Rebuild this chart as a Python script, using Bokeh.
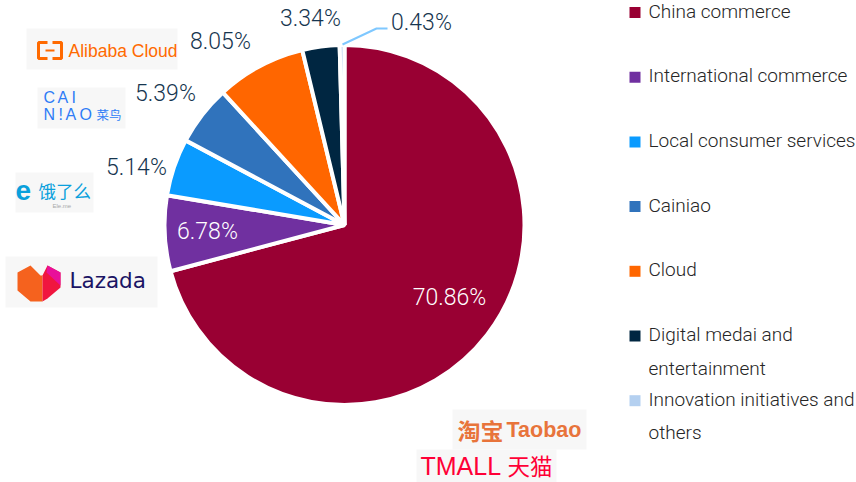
from math import pi
import numpy as np
from bokeh.plotting import figure
from bokeh.models import Range1d
from bokeh.core.properties import value
from bokeh.embed import file_html
from bokeh.resources import INLINE

categories = ["China commerce", "International commerce", "Local consumer services", "Cainiao", "Cloud",
              "Digital medai and\nentertainment", "Innovation initiatives and\nothers"]
shares = [70.86, 6.78, 5.14, 5.39, 8.05, 3.34, 0.43]
colors = ["#990033", "#7030A0", "#0A9BFF", "#3073BC", "#FF6600", "#002641", "#B4D0F0"]
label_text = ["70.86%", "6.78%", "5.14%", "5.39%", "8.05%", "3.34%", "0.43%"]
label_x = [449, 207, 136, 165, 220, 310, 421]
label_y = [296.5, 230.5, 166.5, 92.5, 40.5, 17.5, 21.5]
label_color = ["#FFFFFF", "#FFFFFF", "#16354F", "#16354F", "#16354F", "#16354F", "#16354F"]

FONT = "Roboto Light"
LOGO = "Liberation Sans"
CJK = "Noto Sans CJK SC"


def Y(py):
    return 482 - py


p = figure(width=856, height=482, output_backend="svg", toolbar_location=None,
           x_range=Range1d(0, 856), y_range=Range1d(0, 482), min_border=0)
p.axis.visible = False
p.grid.visible = False
p.outline_line_color = None

# pie
frac = np.array(shares) / sum(shares)
edges = pi / 2 - 2 * pi * np.concatenate([[0], np.cumsum(frac)])
p.wedge(x=344, y=Y(224.5), radius=180, start_angle=edges[:-1], end_angle=edges[1:], direction="clock",
        fill_color=colors, line_color="white", line_width=4)

# leader line of the smallest slice
p.line(x=[342, 376, 387], y=[Y(44), Y(28), Y(28)], line_color="#7FC8FF", line_width=2)

# value labels
p.text(x=label_x, y=[Y(v) for v in label_y], text=label_text, text_color=label_color,
       text_font=value(FONT), text_font_size="23px", text_align="center", text_baseline="middle")

# legend
for i, (cat, col) in enumerate(zip(categories, colors)):
    row = 10.5 + 64.7 * i
    p.scatter(x=[634.5], y=[Y(row + 1.5)], marker="square", size=11, fill_color=col, line_color=None)
    for j, line in enumerate(cat.split("\n")):
        p.text(x=[648], y=[Y(row + 33.5 * j)], text=[line], text_color="#262626", text_font=value(FONT),
               text_font_size="19px", text_align="left", text_baseline="middle")

# logo plates
plates = [(26, 177, 28, 69), (37, 125, 87, 128), (15, 93, 172, 212), (5, 157, 256, 307), (452, 586, 409, 449),
          (416, 556, 449, 482)]
for x0, x1, y0, y1 in plates:
    p.quad(left=x0, right=x1, top=Y(y0), bottom=Y(y1), fill_color="#F7F7F7", line_color=None)


def logo(x, y, s, color, size, font=LOGO, style="normal", align="left"):
    p.text(x=[x], y=[Y(y)], text=[s], text_color=color, text_font=value(font), text_font_size=size,
           text_font_style=style, text_align=align, text_baseline="middle")


# Alibaba Cloud
p.line(x=[47, 38, 38, 47], y=[Y(42), Y(42), Y(58), Y(58)], line_color="#FF6A00", line_width=3)
p.line(x=[52, 61, 61, 52], y=[Y(42), Y(42), Y(58), Y(58)], line_color="#FF6A00", line_width=3)
p.line(x=[45, 54], y=[Y(50), Y(50)], line_color="#FF6A00", line_width=2)
logo(68, 50, "Alibaba Cloud", "#FF6A00", "17.5px")

# Cainiao
for ch, cx in zip("CAI", [43, 57, 71]):
    logo(cx, 97, ch, "#2E7CF6", "16px")
for ch, cx in zip("N!AO", [43, 58, 65, 79]):
    logo(cx, 114, ch, "#2E7CF6", "16px")
logo(96, 114, "菜鸟", "#2E7CF6", "12.5px", CJK)

# Ele.me
logo(15, 190, "e", "#0AA0DC", "28px", LOGO, "bold")
logo(38, 190, "饿了么", "#0AA0DC", "17.5px", CJK)
logo(52, 205, "Ele.me", "#A8A8A8", "6px")

# Lazada
p.patch(x=[17, 17, 30, 42, 42, 40, 30, 17], y=[Y(v) for v in [272, 290, 301, 301, 275, 275, 265, 272]],
        fill_color="#F5621E", line_color=None)
p.patch(x=[42, 42, 47, 60, 60, 47], y=[Y(v) for v in [275, 301, 298, 287, 272, 265]],
        fill_color="#F0163F", line_color=None)
p.patch(x=[46, 60, 60, 47], y=[Y(v) for v in [272, 285, 272, 265]],
        fill_color="#E8109A", line_color=None)
logo(69, 280, "Lazada", "#1B1464", "21.5px", "DejaVu Sans")

# Taobao
logo(457, 429, "淘宝", "#E8743B", "23px", CJK, "bold")
logo(506, 429, "Taobao", "#E8743B", "21.5px", LOGO, "bold")

# Tmall
logo(420, 465, "TMALL", "#FF0036", "25px", LOGO)
logo(507, 464.5, "天猫", "#FF0036", "22.5px", CJK)

open("out.html", "w").write(file_html(p, INLINE))
